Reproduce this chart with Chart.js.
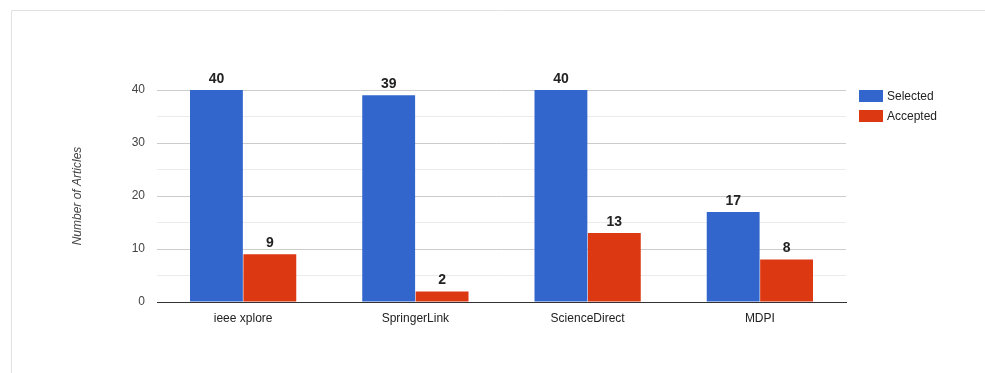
<!DOCTYPE html>
<html>
<head>
<meta charset="utf-8">
<script src="https://cdn.jsdelivr.net/npm/chart.js@4"></script>
<style>
  html, body { margin: 0; padding: 0; background: #fff; }
  #wrap { position: relative; width: 985px; height: 373px; }
</style>
</head>
<body>
<div id="wrap"><canvas id="articlesChart" width="985" height="373"></canvas></div>
<script>
const sources = ['ieee xplore', 'SpringerLink', 'ScienceDirect', 'MDPI'];
const selected = [40, 39, 40, 17];
const accepted = [9, 2, 13, 8];
const yTicks = [0, 10, 20, 30, 40];

const BLUE = '#3366cc';
const RED = '#dc3912';
const FONT = "'Liberation Sans', Arial, sans-serif";

// frame lines + value labels + legend
const extrasPlugin = {
  id: 'extras',
  beforeDraw: (chart) => {
    const { ctx } = chart;
    ctx.save();
    ctx.strokeStyle = '#e2e2e2';
    ctx.lineWidth = 1;
    ctx.beginPath();
    ctx.moveTo(11.5, 373);
    ctx.lineTo(11.5, 10.5);
    ctx.lineTo(985, 10.5);
    ctx.stroke();
    ctx.restore();
  },
  afterDatasetsDraw: (chart) => {
    const { ctx } = chart;
    ctx.save();
    ctx.font = 'bold 14px ' + FONT;
    ctx.fillStyle = '#222';
    ctx.textAlign = 'center';
    ctx.textBaseline = 'bottom';
    chart.data.datasets.forEach((ds, i) => {
      chart.getDatasetMeta(i).data.forEach((bar, j) => {
        ctx.fillText(String(ds.data[j]), bar.x, bar.y - 4);
      });
    });

    // legend
    ctx.font = '12px ' + FONT;
    ctx.textAlign = 'left';
    ctx.textBaseline = 'middle';
    chart.data.datasets.forEach((ds, i) => {
      const y = 90 + i * 20;
      ctx.fillStyle = ds.backgroundColor;
      ctx.fillRect(859, y, 24, 12);
      ctx.fillStyle = '#222';
      ctx.fillText(ds.label, 887, y + 6.5);
    });
    ctx.restore();
  }
};

new Chart(document.getElementById('articlesChart'), {
  type: 'bar',
  plugins: [extrasPlugin],
  data: {
    labels: sources,
    datasets: [
      { label: 'Selected', data: selected, backgroundColor: BLUE },
      { label: 'Accepted', data: accepted, backgroundColor: RED }
    ]
  },
  options: {
    responsive: false,
    animation: false,
    devicePixelRatio: 1,
    layout: { padding: { left: 0, top: 90, right: 139, bottom: 0 } },
    datasets: {
      bar: { categoryPercentage: 0.62, barPercentage: 0.99 }
    },
    plugins: {
      legend: { display: false },
      tooltip: { enabled: false }
    },
    scales: {
      x: {
        grid: { display: false, drawTicks: false },
        border: { display: true, color: '#333', width: 1 },
        ticks: { color: '#222', padding: 9, font: { family: FONT, size: 12 } },
        afterFit: (scale) => { scale.height = 71; }
      },
      y: {
        min: 0,
        max: 40,
        border: { display: false },
        grid: {
          drawTicks: false,
          color: (c) => (c.tick.value % 10 === 0 ? '#cccccc' : '#ebebeb')
        },
        ticks: {
          stepSize: 5,
          padding: 12,
          color: '#444',
          font: { family: FONT, size: 12 },
          callback: (v) => (yTicks.includes(v) ? String(v) : '')
        },
        title: {
          display: true,
          text: 'Number of Articles',
          color: '#444',
          padding: { top: 70, bottom: 0 },
          font: { family: FONT, size: 12, style: 'italic' }
        },
        afterFit: (scale) => { scale.width = 157; }
      }
    }
  }
});
</script>
</body>
</html>
